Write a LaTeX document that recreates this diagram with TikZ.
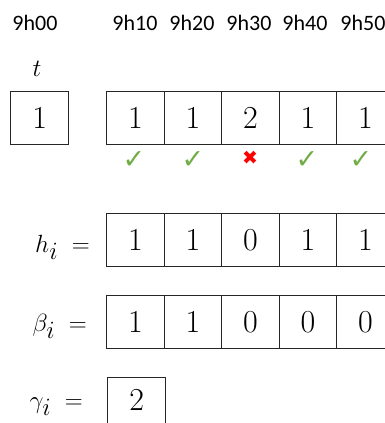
\documentclass[tikz,border=0pt]{standalone}
\usepackage{fontspec}
\setsansfont{Carlito}
\newfontfamily\symfont{DejaVu Sans}
\begin{document}
\begin{tikzpicture}[x=1pt,y=-1pt,
  cell/.style={draw=black!85,line width=1.4pt,minimum width=57.5pt,minimum height=53pt,inner sep=0pt,font=\fontsize{32}{32}\selectfont,anchor=north west},
  timelbl/.style={font=\sffamily\fontsize{22}{22}\selectfont,inner sep=0pt},
  mathlbl/.style={font=\fontsize{34}{34}\selectfont,inner sep=0pt,anchor=base east},
  okmark/.style={font=\symfont\fontsize{27}{27}\selectfont,text=okgreen,inner sep=0pt},
  badmark/.style={font=\symfont\fontsize{19}{19}\selectfont,text=red,inner sep=0pt}]
\definecolor{okgreen}{RGB}{112,173,71}
\useasboundingbox (0,0) rectangle (385,423);
\clip (0,0) rectangle (385,423);
% time labels
\node[timelbl] (l0) at (35,23) {9h00};
\node[timelbl] (l1) at (135,23) {9h10};
\node[timelbl] (l2) at (192,23) {9h20};
\node[timelbl] (l3) at (249,23) {9h30};
\node[timelbl] (l4) at (305,23) {9h40};
\node[timelbl] (l5) at (363,23) {9h50};
% t
\node[font=\fontsize{32}{32}\selectfont,inner sep=0pt] (tl) at (37,69) {$t$};
\node[cell,minimum width=58pt] (t0) at (10,91) {1};
% top row
\node[cell] (a1) at (106,91) {1};
\node[cell] (a2) at (163.5,91) {1};
\node[cell] (a3) at (221,91) {2};
\node[cell] (a4) at (278.5,91) {1};
\node[cell] (a5) at (336,91) {1};
% marks
\node[okmark] (m1) at (134,160) {✓};
\node[okmark] (m2) at (193,160) {✓};
\node[badmark] (m3) at (250,158) {✖};
\node[okmark] (m4) at (307,160) {✓};
\node[okmark] (m5) at (361,160) {✓};
% h row
\node[mathlbl] (hl) at (90,252) {$h_i\;=$};
\node[cell] (h1) at (106,213) {1};
\node[cell] (h2) at (163.5,213) {1};
\node[cell] (h3) at (221,213) {0};
\node[cell] (h4) at (278.5,213) {1};
\node[cell] (h5) at (336,213) {1};
% beta row
\node[mathlbl] (bl) at (87,331) {$\beta_i\;=$};
\node[cell] (b1) at (106,295) {1};
\node[cell] (b2) at (163.5,295) {1};
\node[cell] (b3) at (221,295) {0};
\node[cell] (b4) at (278.5,295) {0};
\node[cell] (b5) at (336,295) {0};
% gamma
\node[mathlbl] (gl) at (83,408) {$\gamma_i\;=$};
\node[cell,minimum width=58pt] (g1) at (107,377) {\raisebox{9pt}{2}};
\end{tikzpicture}
\end{document}
